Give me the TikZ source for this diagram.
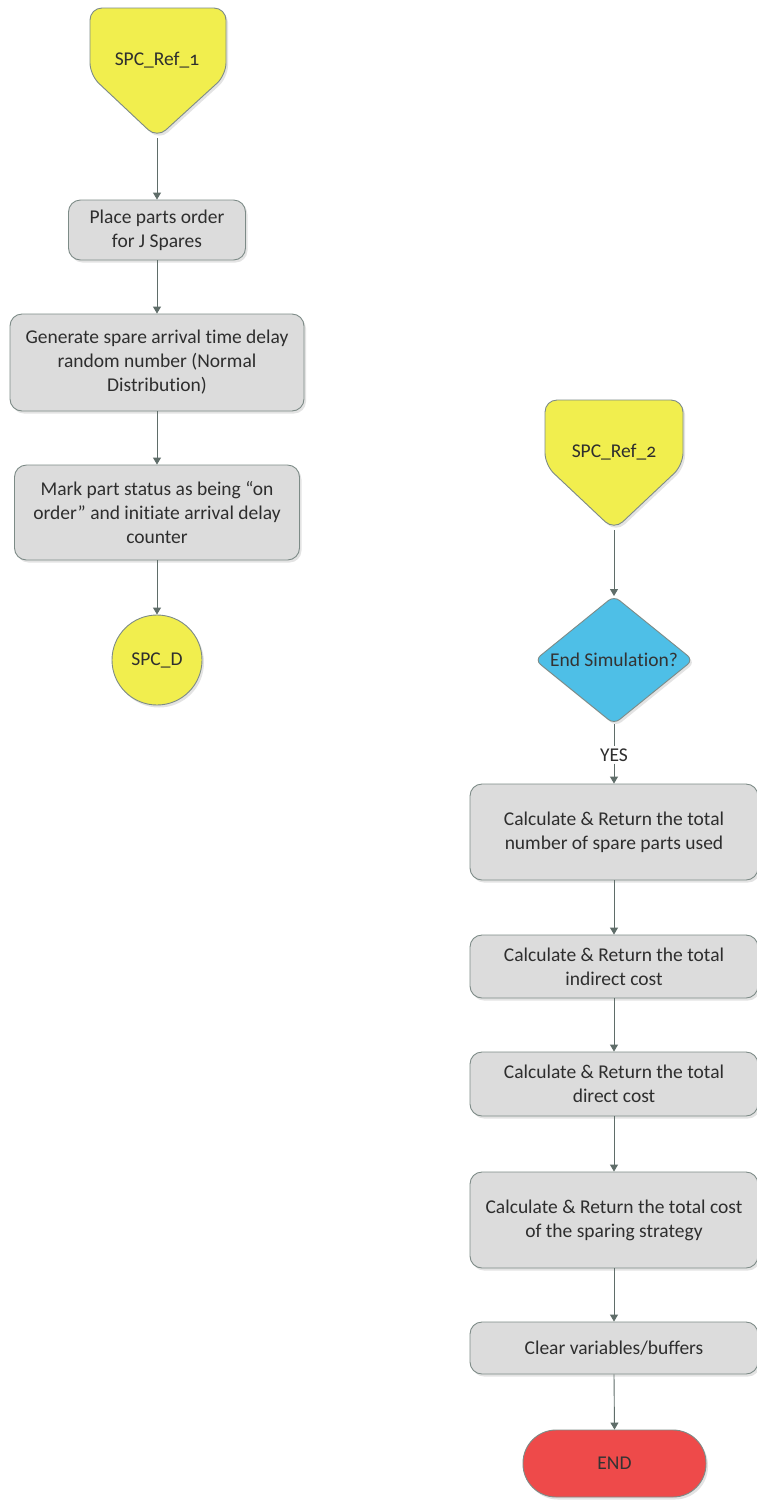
\documentclass[tikz,border=0pt]{standalone}
\usepackage{fontspec}
\setmainfont{Carlito}[Numbers=OldStyle, Ligatures=NoCommon]
\usetikzlibrary{arrows.meta,shapes.geometric,shadows}

\definecolor{boxfill}{HTML}{DCDCDC}
\definecolor{edgecol}{HTML}{7D8B87}
\definecolor{linkcol}{HTML}{5F6D69}
\definecolor{txtcol}{HTML}{2E2E2E}
\definecolor{yel}{HTML}{F1EE4E}
\definecolor{cyanfill}{HTML}{4EBFE7}
\definecolor{redfill}{HTML}{EE4A4A}

\tikzset{
  bodyfont/.style={font=\fontsize{19.5}{24}\selectfont},
  softshadow/.style={drop shadow={opacity=0.22, shadow xshift=2pt, shadow yshift=-2.5pt}},
  procbox/.style={draw=edgecol, fill=boxfill, line width=0.9pt, rounded corners=12pt,
    align=center, text=txtcol, bodyfont, inner sep=0pt, softshadow},
  connector/.style={draw=edgecol, fill=yel, line width=0.9pt, rounded corners=12pt, softshadow},
  lbl/.style={text=txtcol, bodyfont, align=center},
  link/.style={draw=linkcol, line width=0.9pt},
  arr/.style={link, -{Triangle[width=8pt,length=7pt]}},
}

\begin{document}
\begin{tikzpicture}[x=1pt, y=-1pt]
\useasboundingbox[fill=white] (0,0) rectangle (756,1500);

% ---- left column ----
\draw[connector] (90,8) -- (226,8) -- (226,75) -- (157,138) -- (90,75) -- cycle;
\node[lbl] (ref1) at (157,60) {SPC\_Ref\_1};
\coordinate (ref1tip) at (157,138);

\node[procbox, minimum width=177pt, minimum height=60pt] (place) at (157,230)
  {Place parts order\\for J Spares};
\node[procbox, minimum width=294pt, minimum height=97pt] (gen) at (157,362.5)
  {Generate spare arrival time delay\\random number (Normal\\Distribution)};
\node[procbox, minimum width=285pt, minimum height=95pt] (mark) at (157,512.5)
  {Mark part status as being ``on\\order'' and initiate arrival delay\\counter};
\node[circle, draw=edgecol, fill=yel, line width=0.9pt, minimum size=90pt, inner sep=0pt,
  text=txtcol, bodyfont, softshadow] (spcd) at (157,660) {SPC\_D};

\draw[arr] (ref1tip) -- (place.north);
\draw[arr] (place.south) -- (gen.north);
\draw[arr] (gen.south) -- (mark.north);
\draw[arr] (mark.south) -- (spcd.north);

% ---- right column ----
\draw[connector] (545,400) -- (683,400) -- (683,465) -- (614,530) -- (545,465) -- cycle;
\node[lbl] (ref2) at (614,452) {SPC\_Ref\_2};
\coordinate (ref2tip) at (614,530);

% decision diamond
\draw[draw=edgecol, fill=cyanfill, line width=0.9pt, rounded corners=7pt, softshadow]
  (614,596) -- (693,660) -- (614,724) -- (535,660) -- cycle;
\node[lbl, text=black!80] (dec) at (614,660) {End Simulation?};
\coordinate (dectop) at (614,596);
\coordinate (decbot) at (614,724);

\node[procbox, minimum width=288pt, minimum height=96pt] (b1) at (614,832)
  {Calculate \& Return the total\\number of spare parts used};
\node[procbox, minimum width=288pt, minimum height=63pt] (b2) at (614,966.5)
  {Calculate \& Return the total\\indirect cost};
\node[procbox, minimum width=288pt, minimum height=64pt] (b3) at (614,1084)
  {Calculate \& Return the total\\direct cost};
\node[procbox, minimum width=288pt, minimum height=96pt] (b4) at (614,1220)
  {Calculate \& Return the total cost\\of the sparing strategy};
\node[procbox, minimum width=288pt, minimum height=52pt] (b5) at (614,1348)
  {Clear variables/buffers};
\node[draw=edgecol, fill=redfill, line width=0.9pt, rounded corners=33pt,
  minimum width=183pt, minimum height=67pt, inner sep=0pt, text=black!80,
  bodyfont, softshadow] (endnode) at (614.5,1463.5) {END};

\node[lbl, inner sep=2pt] (yes) at (614,755) {YES};

\draw[arr] (ref2tip) -- (dectop);
\draw[link] (decbot) -- (yes.north);
\draw[arr] (yes.south) -- (b1.north);
\draw[arr] (b1.south) -- (b2.north);
\draw[arr] (b2.south) -- (b3.north);
\draw[arr] (b3.south) -- (b4.north);
\draw[arr] (b4.south) -- (b5.north);
\draw[arr] (b5.south) -- (endnode.north);
\end{tikzpicture}
\end{document}
